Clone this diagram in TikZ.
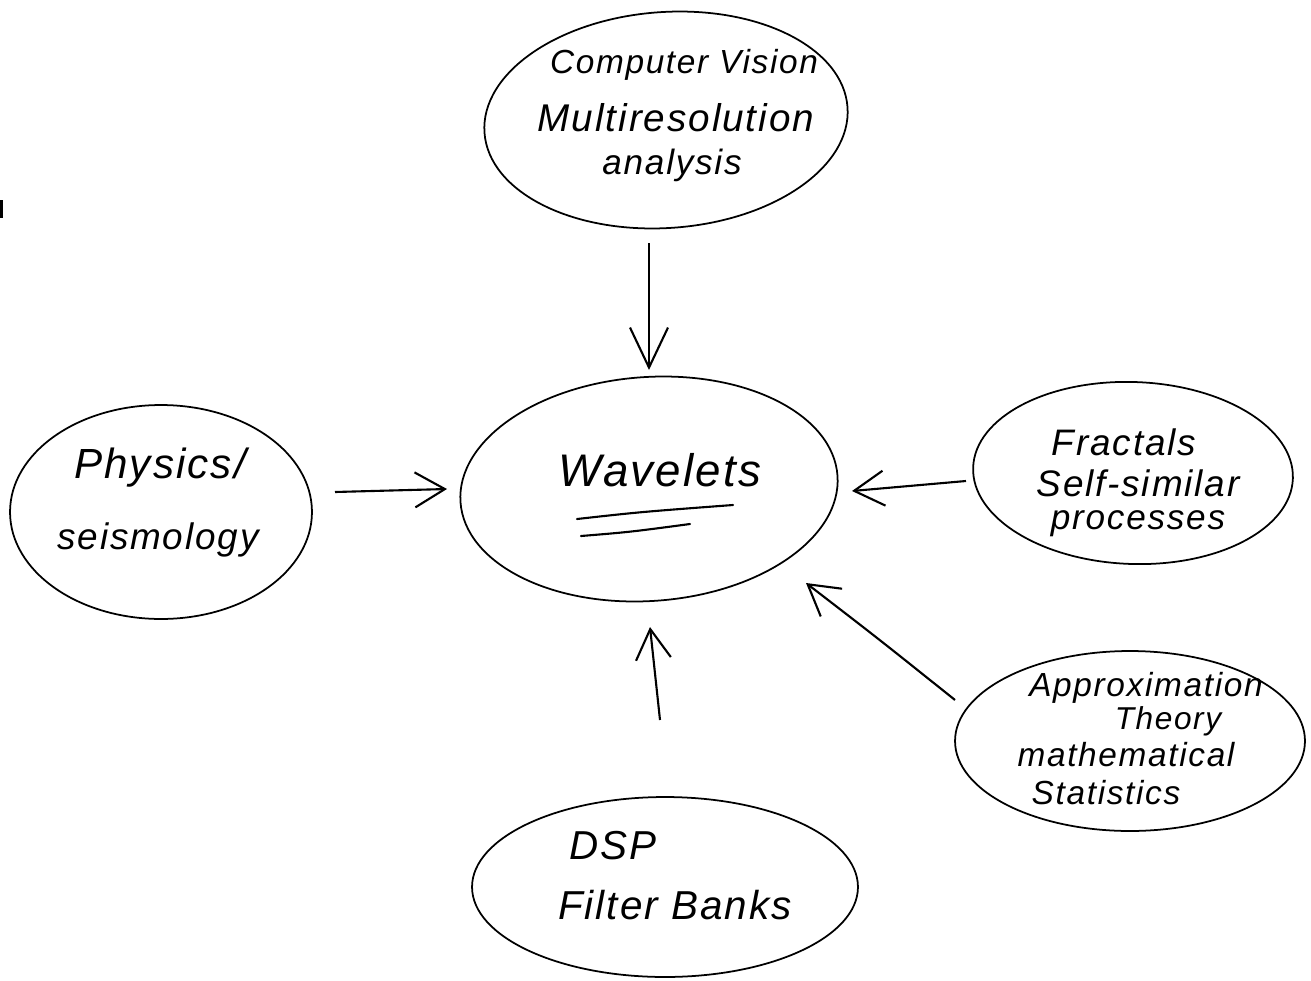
\documentclass[tikz,border=0pt]{standalone}
\usepackage{fontspec}
\newfontfamily\hand[LetterSpace=5]{Liberation Sans}
\usetikzlibrary{shapes.geometric,arrows.meta}
\begin{document}
\begin{tikzpicture}[x=0.02cm,y=-0.02cm,
  blob/.style={draw, ellipse, line width=1pt, inner sep=0pt},
  txt/.style={inner sep=0pt, font=\hand\itshape\fontsize{#1}{#1}\selectfont},
  txt/.default=20,
  conn/.style={line width=1.2pt, -{Straight Barb[length=0.6cm,width=0.7cm]}},
  bigconn/.style={line width=1.2pt, -{Straight Barb[length=0.8cm,width=0.76cm]}},
  uline/.style={line width=1.2pt, line cap=round}]
\useasboundingbox (0,0) rectangle (1311,980);
% ellipses
\node[blob, minimum width=7.28cm, minimum height=4.32cm, rotate=4] (cv) at (666,120) {};
\node[blob, minimum width=7.56cm, minimum height=4.48cm, rotate=4] (wav) at (649,489) {};
\node[blob, minimum width=6.04cm, minimum height=4.28cm] (phys) at (161,512) {};
\node[blob, minimum width=6.4cm, minimum height=3.64cm, rotate=-2] (frac) at (1133,473) {};
\node[blob, minimum width=7.0cm, minimum height=3.6cm] (appr) at (1130,741) {};
\node[blob, minimum width=7.72cm, minimum height=3.6cm] (dsp) at (665,887) {};
% texts
\node[txt=19] (cv1) at (684,65) {Computer Vision};
\node[txt=22] (cv2) at (676,118) {Multiresolution};
\node[txt=20] (cv3) at (672,165) {analysis};
\node[txt=26] (wav1) at (660,470) {Wavelets};
\node[txt=24] (ph1) at (160,468) {Physics/};
\node[txt=21] (ph2) at (158,540) {seismology};
\node[txt=21] (fr1) at (1124,442) {Fractals};
\node[txt=21] (fr2) at (1138,483) {Self-similar};
\node[txt=20] (fr3) at (1138,524) {processes};
\node[txt=19] (ap1) at (1146,688) {Approximation};
\node[txt=18] (ap2) at (1168,721) {Theory};
\node[txt=19] (ap3) at (1126,755) {mathematical};
\node[txt=19] (ap4) at (1106,793) {Statistics};
\node[txt=23] (ds1) at (613,846) {DSP};
\node[txt=23] (ds2) at (675,905) {Filter Banks};
% underlines
\draw[uline] (577,519) .. controls (640,512) .. (733,505);
\draw[uline] (581,536) .. controls (630,532) .. (690,524);
% connectors
\coordinate (cvOut) at (649,243);
\coordinate (wavN) at (649,370);
\coordinate (phOut) at (335,492);
\coordinate (wavW) at (447,489);
\coordinate (frOut) at (966,481);
\coordinate (wavE) at (852,491);
\coordinate (dsOut) at (660,720);
\coordinate (wavS) at (650,627);
\coordinate (apOut) at (955,700);
\coordinate (wavSE) at (806,583);
\draw[bigconn] (cvOut) -- (wavN);
\draw[conn] (phOut) -- (wavW);
\draw[conn] (frOut) -- (wavE);
\draw[conn] (dsOut) -- (wavS);
\draw[conn] (apOut) .. controls (880,640) .. (wavSE);
% scan mark at left edge
\draw[line width=2pt] (1,200) -- (1,218);
\end{tikzpicture}
\end{document}
